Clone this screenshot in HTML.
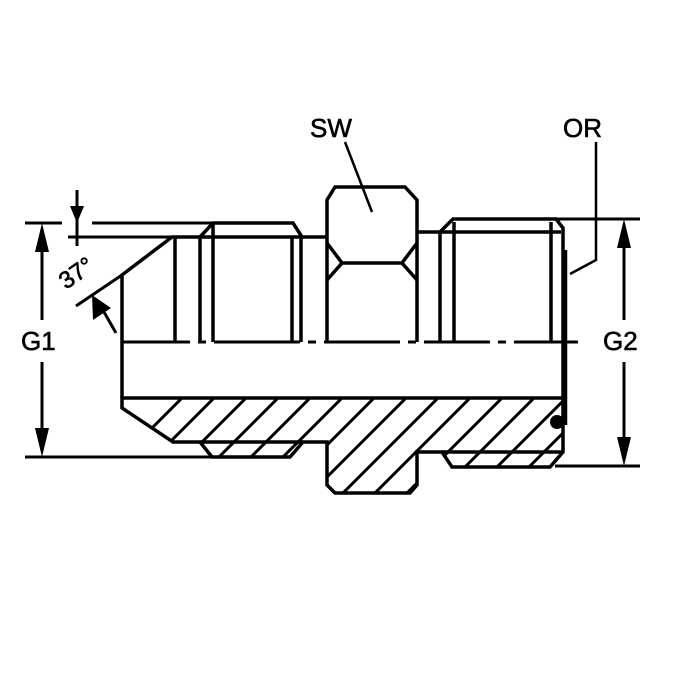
<!DOCTYPE html>
<html><head><style>html,body{margin:0;padding:0;background:#fff}svg{display:block}</style></head>
<body>
<svg width="700" height="700" viewBox="0 0 700 700" xmlns="http://www.w3.org/2000/svg">
<defs>
<clipPath id="sec">
<polygon points="122,398 563,398 563,452 550,467 452,467 442,452 417,452 417,485 410,493 335,493 327,485 327,442 303,442 290,457 212,457 200,442 173,442 122,408"/>
</clipPath>
</defs>
<g fill="none" stroke="#000" stroke-width="3.5" stroke-linejoin="miter">
<g clip-path="url(#sec)" stroke-width="3">
<path d="M60,520L200,380 M92,520L232,380 M124,520L264,380 M156,520L296,380 M188,520L328,380 M220,520L360,380 M252,520L392,380 M284,520L424,380 M316,520L456,380 M348,520L488,380 M380,520L520,380 M412,520L552,380 M444,520L584,380 M476,520L616,380 M508,520L648,380 M540,520L680,380"/>
</g>
<polygon points="122,398 563,398 563,452 550,467 452,467 442,452 417,452 417,485 410,493 335,493 327,485 327,442 303,442 290,457 212,457 200,442 173,442 122,408"/>
<line x1="200" y1="442" x2="303" y2="442"/>
<line x1="442" y1="452" x2="563" y2="452"/>
<polyline points="122,398 122,275 172,237 327,237"/>
<polyline points="200,237 213,223 293,223 302,237"/>
<line x1="175" y1="237" x2="175" y2="342"/>
<line x1="200" y1="237" x2="200" y2="342"/>
<line x1="213" y1="223" x2="213" y2="342"/>
<line x1="292" y1="237" x2="292" y2="342"/>
<line x1="301" y1="237" x2="301" y2="342"/>
<polyline points="327,342 327,200 335,187 405,187 417,200 417,342"/>
<polyline points="327,243 342,263 327,280"/>
<polyline points="417,243 402,263 417,280"/>
<line x1="342" y1="263" x2="402" y2="263"/>
<line x1="417" y1="232" x2="440" y2="232"/>
<polyline points="440,342 440,232 453,219 556,219 563,228 563,398"/>
<line x1="440" y1="232" x2="561" y2="232"/>
<line x1="454" y1="222" x2="454" y2="342"/>
<line x1="551" y1="222" x2="551" y2="342"/>
<line x1="565" y1="250" x2="565" y2="425" stroke-width="4.5"/>
<path d="M122,342H190 M198,342H206 M214,342H300 M308,342H316 M324,342H400 M408,342H416 M424,342H490 M498,342H506 M514,342H578" stroke-width="3"/>
<path d="M25,223H62 M92,223H213" stroke-width="3"/>
<path d="M68,237H172" stroke-width="3"/>
<path d="M25,457H212" stroke-width="3"/>
<path d="M556,219H640 M555,466H640" stroke-width="3"/>
<path d="M42,250V320 M42,362V430" stroke-width="3"/>
<path d="M624,246V320 M624,362V440" stroke-width="3"/>
<path d="M77,190V246" stroke-width="3"/>
<path d="M122,275L76,306" stroke-width="3"/>
<path d="M100,305L116,333" stroke-width="3"/>
<path d="M345,142L372,212" stroke-width="2.5"/>
<polyline points="596,142 596,260 570,274" stroke-width="2.5"/>
</g>
<g fill="#000">
<polygon points="42,223 35,252 49,252"/>
<polygon points="42,457 35,428 49,428"/>
<polygon points="624,219 617,248 631,248"/>
<polygon points="624,466 617,437 631,437"/>
<polygon points="77,223 70,206 84,206"/>
<polygon points="92,295 93,320 111,308"/>
<circle cx="557" cy="422" r="7"/>
</g>
<g font-family="Liberation Sans, sans-serif" font-size="26" fill="#000" stroke="#000" stroke-width="0.6">
<text x="21" y="350">G1</text>
<text x="603" y="350">G2</text>
<text x="310" y="137">SW</text>
<text x="563" y="137">OR</text>
<text x="0" y="0" transform="translate(66,290) rotate(-35)" font-size="24">37°</text>
</g>
</svg>
</body></html>
